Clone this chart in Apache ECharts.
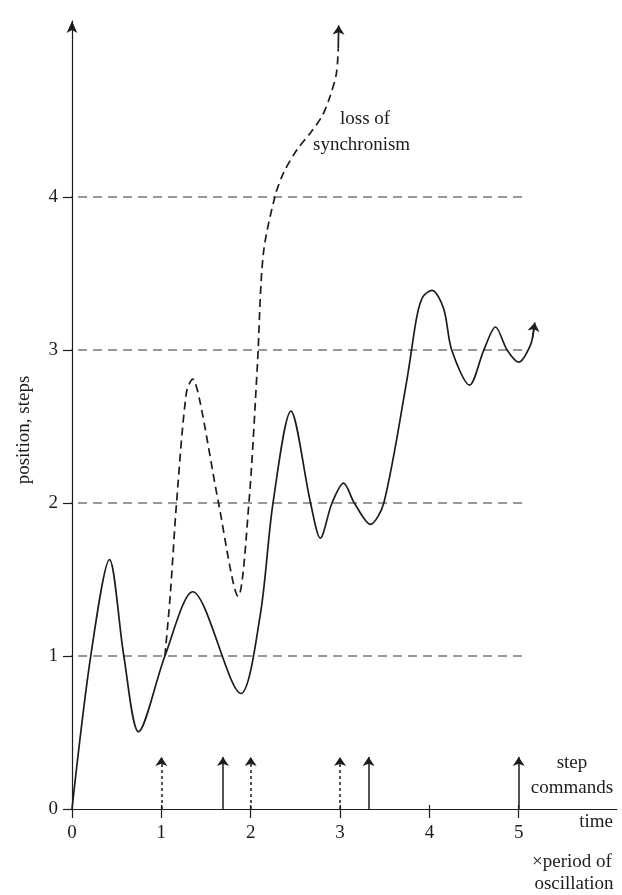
<!DOCTYPE html>
<html><head><meta charset="utf-8">
<script src="https://cdn.jsdelivr.net/npm/echarts@6/dist/echarts.min.js"></script>
<style>html,body{margin:0;padding:0;background:#fff}#c{width:622px;height:895px}</style>
</head><body><div id="c"></div>
<script>
// ---- data (time in periods of oscillation, position in steps) ----
const xTicks = [0, 1, 2, 3, 4, 5];
const xInnerTicks = [1, 2, 3, 4, 5];
const yTicks = [0, 1, 2, 3, 4];
const levels = [1, 2, 3, 4];
const levelStart = -0.1;
const levelEnd = 5.07;

const solidT   = [0, 0.21, 0.42, 0.58, 0.745, 1.04, 1.35, 1.89, 2.105, 2.25, 2.45, 2.67, 2.78, 2.91, 3.04, 3.16, 3.34, 3.49, 3.75, 3.86, 3.93, 4.03, 4.16, 4.25, 4.45, 4.61, 4.74, 4.87, 5.00, 5.13, 5.17];
const solidPos = [0, 1.00, 1.63, 1.00, 0.505, 1.00, 1.42, 0.755, 1.26, 2.00, 2.60, 2.00, 1.77, 2.00, 2.13, 2.00, 1.86, 2.00, 2.81, 3.22, 3.35, 3.39, 3.27, 3.00, 2.77, 3.00, 3.15, 3.00, 2.92, 3.03, 3.14];

const lostT   = [1.04, 1.10, 1.17, 1.28, 1.35, 1.43, 1.64, 1.86, 1.98, 2.075, 2.14, 2.27, 2.37, 2.52, 2.67, 2.80, 2.89, 2.96, 2.98];
const lostPos = [1.00, 1.40, 2.00, 2.72, 2.81, 2.67, 2.00, 1.39, 2.00, 2.90, 3.62, 4.00, 4.16, 4.31, 4.42, 4.53, 4.66, 4.81, 4.97];

const cmdLost = [1, 2, 3];          // dotted step commands
const cmdKept = [1.69, 3.32, 5.0];  // solid step commands
const cmdHeight = 0.34;
const solidArrow = [[5.155, 3.08], [5.18, 3.18]];
const lostArrow = [[2.98, 4.97], [2.985, 5.12]];

// ---- chart ----
const INK = '#1c1c1c';
const FONT = 'Liberation Serif';
const zip = (a, b) => a.map((v, i) => [v, b[i]]);

const levelSeries = levels.map(k => ({
  type: 'line', silent: true, clip: false, showSymbol: false, z: 1,
  data: [[levelStart, k], [levelEnd, k]],
  lineStyle: { color: '#333', width: 1.1, type: [9, 6] }
}));

const arrowLine = (pts) => [{ coord: pts[0] }, { coord: pts[1] }];

const option = {
  animation: false,
  backgroundColor: '#fff',
  grid: { left: 72, right: 5, top: 21, bottom: 86 },
  xAxis: [{
    type: 'value', min: 0, max: 6.1, interval: 1, position: 'bottom',
    axisLine: { lineStyle: { color: INK, width: 1.2 } },
    axisTick: { customValues: xTicks, length: 9, lineStyle: { color: INK, width: 1.2 } },
    axisLabel: { customValues: xTicks, color: INK, fontFamily: FONT, fontSize: 19, margin: 15 },
    splitLine: { show: false }
  }, {
    type: 'value', min: 0, max: 6.1, interval: 1, position: 'bottom',
    axisLine: { show: false, onZero: false },
    axisTick: { inside: true, customValues: xInnerTicks, length: 4, lineStyle: { color: INK, width: 1.2 } },
    axisLabel: { show: false },
    splitLine: { show: false }
  }],
  yAxis: {
    type: 'value', min: 0, max: 5.15, interval: 1,
    name: 'position, steps', nameLocation: 'middle', nameGap: 38,
    nameTextStyle: { color: INK, fontFamily: FONT, fontSize: 19, padding: [0, 30, 0, 0] },
    axisLine: { symbol: ['none', 'arrow'], symbolSize: [8, 12], lineStyle: { color: INK, width: 1.2 } },
    axisTick: { customValues: yTicks, length: 9, lineStyle: { color: INK, width: 1.2 } },
    axisLabel: { customValues: yTicks, color: INK, fontFamily: FONT, fontSize: 19, margin: 14 },
    splitLine: { show: false }
  },
  series: levelSeries.concat([
    {
      name: 'position', type: 'line', smooth: 0.3, showSymbol: false, z: 3,
      data: zip(solidT, solidPos),
      lineStyle: { color: INK, width: 1.7 },
      markLine: {
        silent: true, symbol: ['none', 'arrow'], symbolSize: 9, precision: 3,
        label: { show: false },
        lineStyle: { color: INK, width: 1.5, type: 'solid' },
        data: cmdKept.map(t => [{ coord: [t, 0] }, { coord: [t, cmdHeight] }]).concat([arrowLine(solidArrow)])
      }
    },
    {
      name: 'loss of synchronism', type: 'line', smooth: 0.3, showSymbol: false, z: 3,
      data: zip(lostT, lostPos),
      lineStyle: { color: INK, width: 1.7, type: [8, 5] },
      markLine: {
        silent: true, symbol: ['none', 'arrow'], symbolSize: 9, precision: 3,
        label: { show: false },
        lineStyle: { color: INK, width: 1.5, type: [3, 3] },
        data: cmdLost.map(t => [{ coord: [t, 0] }, { coord: [t, cmdHeight] }]).concat([
          [{ coord: lostArrow[0], lineStyle: { type: 'solid', width: 1.7 } }, { coord: lostArrow[1] }]
        ])
      }
    }
  ]),
  graphic: [
    { type: 'text', x: 340, y: 119, style: { text: 'loss of', fill: INK, font: '19px "Liberation Serif"', textAlign: 'left', textVerticalAlign: 'middle' } },
    { type: 'text', x: 313, y: 145, style: { text: 'synchronism', fill: INK, font: '19px "Liberation Serif"', textAlign: 'left', textVerticalAlign: 'middle' } },
    { type: 'text', x: 572, y: 763, style: { text: 'step', fill: INK, font: '19px "Liberation Serif"', textAlign: 'center', textVerticalAlign: 'middle' } },
    { type: 'text', x: 572, y: 788, style: { text: 'commands', fill: INK, font: '19px "Liberation Serif"', textAlign: 'center', textVerticalAlign: 'middle' } },
    { type: 'text', x: 613, y: 822, style: { text: 'time', fill: INK, font: '19px "Liberation Serif"', textAlign: 'right', textVerticalAlign: 'middle' } },
    { type: 'text', x: 572, y: 862, style: { text: '×period of', fill: INK, font: '19px "Liberation Serif"', textAlign: 'center', textVerticalAlign: 'middle' } },
    { type: 'text', x: 574, y: 884, style: { text: 'oscillation', fill: INK, font: '19px "Liberation Serif"', textAlign: 'center', textVerticalAlign: 'middle' } }
  ]
};

const chart = echarts.init(document.getElementById('c'), null, { renderer: 'canvas' });
chart.setOption(option);
</script>
</body></html>
